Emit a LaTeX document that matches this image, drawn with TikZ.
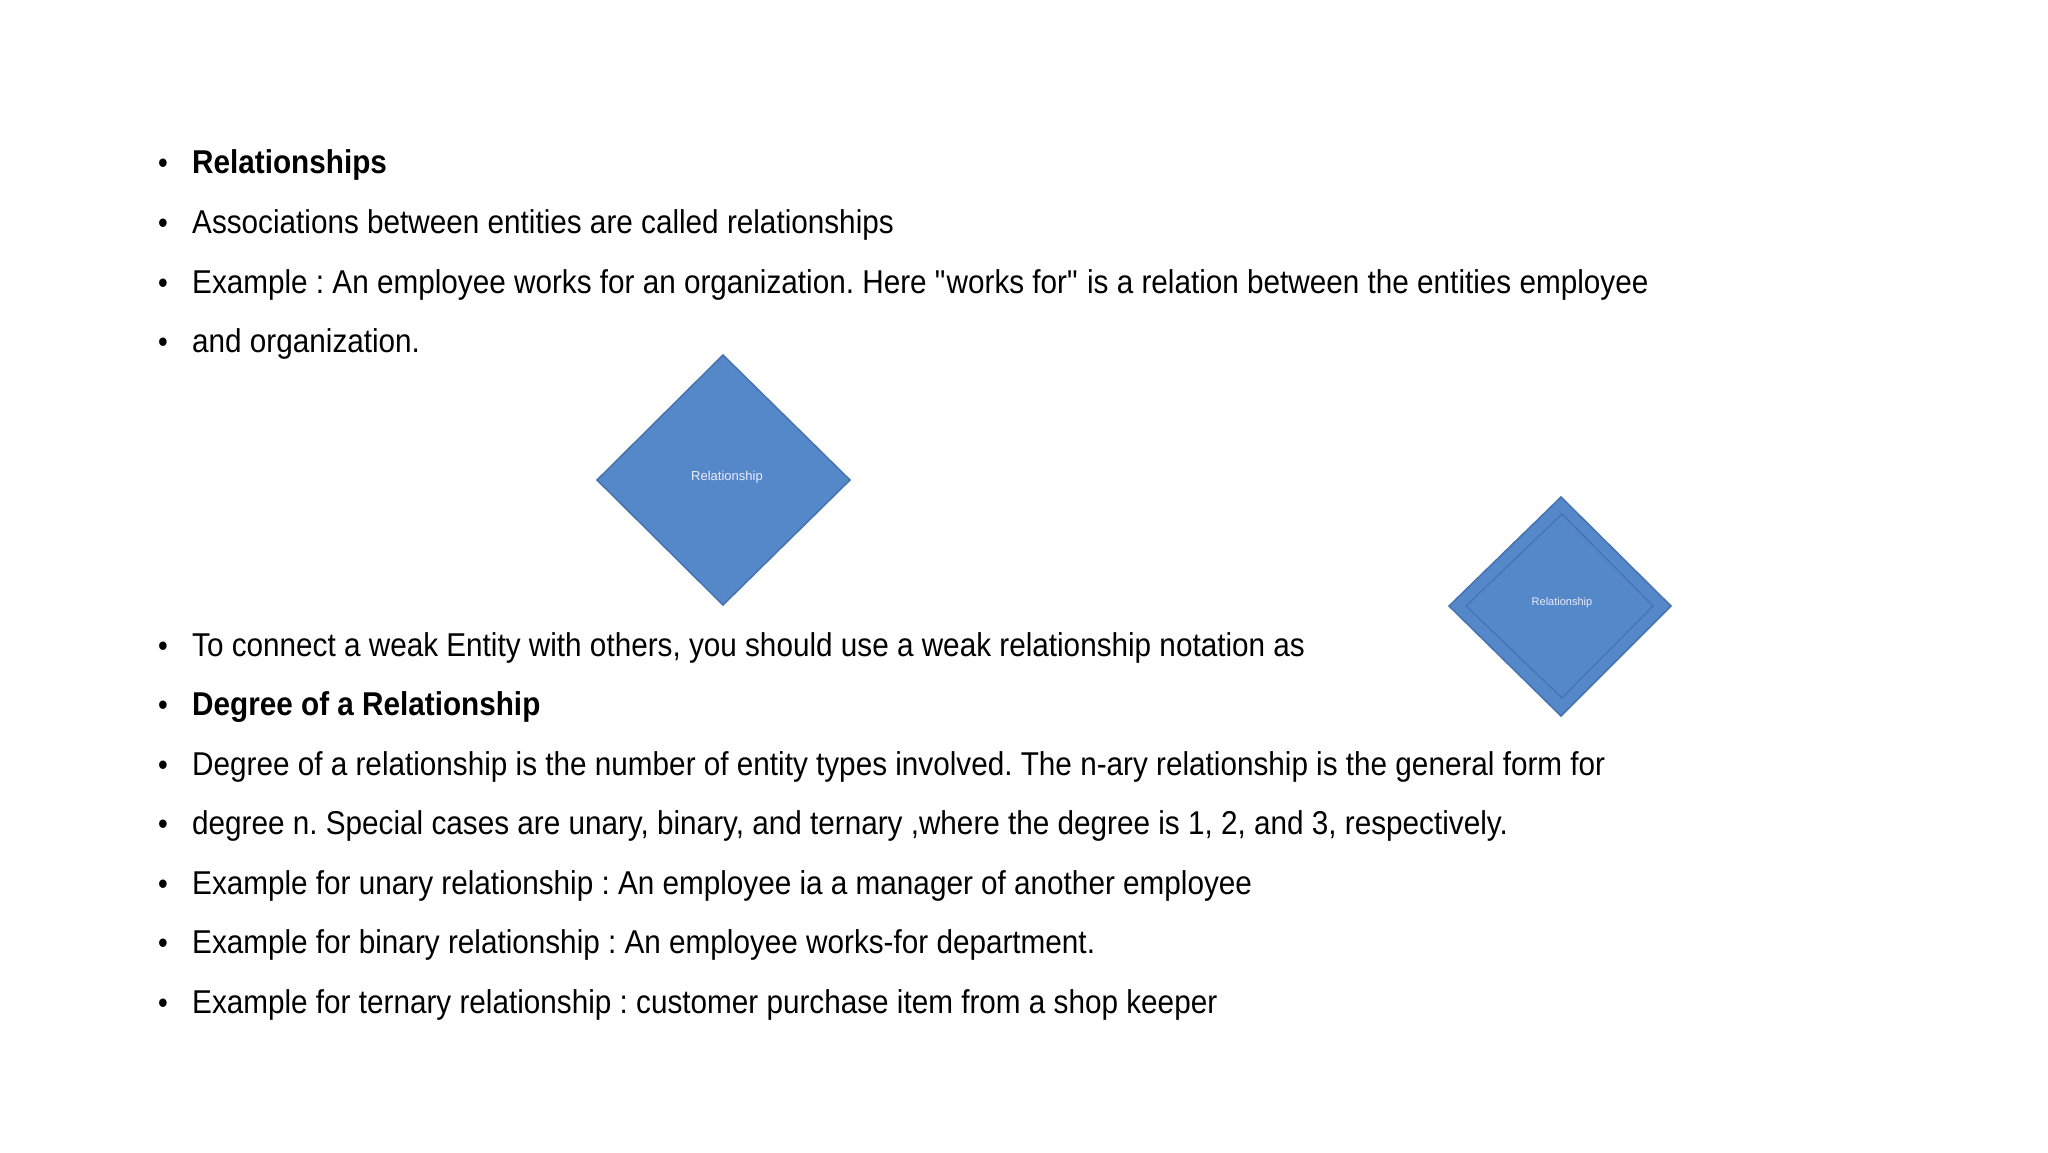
\documentclass[tikz,border=0pt]{standalone}
\usepackage{fontspec}
\setmainfont{Liberation Sans}[FakeStretch=0.90]
\newfontfamily\smallsans{Liberation Sans}
\definecolor{relfill}{HTML}{5588C9}
\definecolor{reledge}{HTML}{4672B0}
\begin{document}
\frenchspacing
\begin{tikzpicture}[x=1pt,y=-1pt,
  bul/.style={anchor=west,inner sep=0pt,font=\frenchspacing\fontsize{33}{39}\selectfont},
  dot/.style={anchor=center,inner sep=0pt,font=\fontsize{31}{37}\selectfont},
  lbl/.style={text=white!92!blue,font=\smallsans\fontsize{13}{15}\selectfont}]
\useasboundingbox (0,0) rectangle (2048,1152);
\fill[white] (0,0) rectangle (2048,1152);
\foreach \y/\t [count=\i] in {163/{\textbf{Relationships}},223/{Associations between entities are called relationships},283/{Example : An employee works for an organization. Here \textquotedbl works for\textquotedbl\ is a relation between the entities employee},342/{and organization.},646/{To connect a weak Entity with others, you should use a weak relationship notation as},705/{\textbf{Degree of a Relationship}},765/{Degree of a relationship is the number of entity types involved. The n-ary relationship is the general form for},824/{degree n. Special cases are unary, binary, and ternary ,where the degree is 1, 2, and 3, respectively.},884/{Example for unary relationship : An employee ia a manager of another employee},943/{Example for binary relationship : An employee works-for department.},1003/{Example for ternary relationship : customer purchase item from a shop keeper}}{
  \node[dot] (b\i) at (163,\y+3) {•};
  \node[bul] (t\i) at (192,\y+2) {\t};
}
\filldraw[fill=relfill,draw=reledge,line width=1.5pt] (723,355) -- (850,480) -- (723,605) -- (597,480) -- cycle;
\node[lbl] (r1) at (727,477) {Relationship};
\filldraw[fill=relfill,draw=reledge,line width=1.5pt] (1561,497) -- (1671,606) -- (1561,716) -- (1449,606) -- cycle;
\draw[reledge,line width=1.2pt] (1562,514) -- (1653,606) -- (1562,698) -- (1466,606) -- cycle;
\node[lbl,font=\smallsans\fontsize{11}{13}\selectfont] (r2) at (1562,603) {Relationship};
\end{tikzpicture}
\end{document}
